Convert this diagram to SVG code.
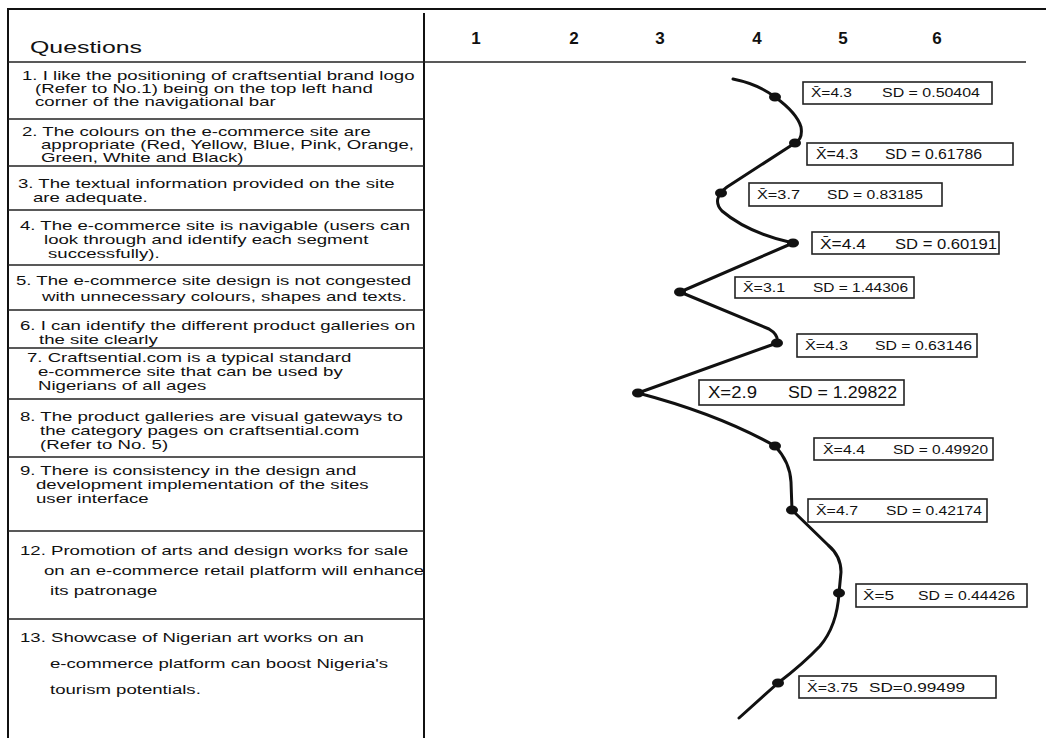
<svg xmlns="http://www.w3.org/2000/svg" width="1046" height="738" viewBox="0 0 1046 738">
<style>
.frame{stroke:#111;stroke-width:2;fill:none}
.rule{stroke:#222;stroke-width:1.6;fill:none}
.q{font-family:"Liberation Sans",Arial,sans-serif;font-size:13px;fill:#111}
.hd{font-family:"Liberation Sans",Arial,sans-serif;font-size:17.4px;fill:#111}
.num{font-family:"Liberation Sans",Arial,sans-serif;font-size:17px;font-weight:bold;fill:#111;text-anchor:middle}
.box{fill:#fff;stroke:#222;stroke-width:1.6}
.bt{font-family:"Liberation Sans",Arial,sans-serif;fill:#111}
.curve{fill:none;stroke:#111;stroke-width:3;stroke-linecap:round;stroke-linejoin:round}
.dot{fill:#111}
</style>
<rect width="1046" height="738" fill="#fff"/>
<g id="frame">
<line class="frame" x1="8" y1="9" x2="1046" y2="9"/>
<line class="frame" x1="8" y1="8" x2="8" y2="738"/>
<line class="frame" x1="424" y1="13" x2="424" y2="738"/>
<line class="rule" x1="8" y1="62" x2="1026" y2="62"/>
<line class="rule" x1="8" y1="119" x2="424" y2="119"/>
<line class="rule" x1="8" y1="166" x2="424" y2="166"/>
<line class="rule" x1="8" y1="210" x2="424" y2="210"/>
<line class="rule" x1="8" y1="265" x2="424" y2="265"/>
<line class="rule" x1="8" y1="310" x2="424" y2="310"/>
<line class="rule" x1="8" y1="348" x2="424" y2="348"/>
<line class="rule" x1="8" y1="399" x2="424" y2="399"/>
<line class="rule" x1="8" y1="457" x2="424" y2="457"/>
<line class="rule" x1="8" y1="531" x2="424" y2="531"/>
<line class="rule" x1="8" y1="619" x2="424" y2="619"/>
</g>
<g id="scale-header">
<text class="num" x="476" y="44">1</text>
<text class="num" x="574" y="44">2</text>
<text class="num" x="660" y="44">3</text>
<text class="num" x="757" y="44">4</text>
<text class="num" x="843" y="44">5</text>
<text class="num" x="937" y="44">6</text>
</g>
<g id="questions" transform="scale(1.43 1)">
<text class="hd" x="21" y="53">Questions</text>
<g id="q1"><text class="q" x="15.4" y="80">1. I like the positioning of craftsential brand logo</text>
<text class="q" x="24.5" y="93">(Refer to No.1) being on the top left hand</text>
<text class="q" x="24.5" y="106">corner of the  navigational bar</text></g>
<g id="q2"><text class="q" x="15.4" y="136">2. The colours on the e-commerce site are</text>
<text class="q" x="28.7" y="149">appropriate (Red, Yellow, Blue, Pink, Orange,</text>
<text class="q" x="28.7" y="162">Green, White and Black)</text></g>
<g id="q3"><text class="q" x="12.6" y="188">3. The textual information provided on the site</text>
<text class="q" x="23.1" y="202">are adequate.</text></g>
<g id="q4"><text class="q" x="14" y="230">4. The e-commerce site is navigable (users can</text>
<text class="q" x="30.8" y="244">look through and identify each segment</text>
<text class="q" x="33.6" y="258">successfully).</text></g>
<g id="q5"><text class="q" x="11.2" y="285">5. The e-commerce site design is not congested</text>
<text class="q" x="29.4" y="301">with unnecessary colours, shapes and texts.</text></g>
<g id="q6"><text class="q" x="14" y="330">6. I can identify the different product galleries on</text>
<text class="q" x="27.3" y="344">the site clearly</text></g>
<g id="q7"><text class="q" x="18.9" y="362">7. Craftsential.com is a typical standard</text>
<text class="q" x="26.6" y="376">e-commerce site that can be used by</text>
<text class="q" x="26.6" y="390">Nigerians of all ages</text></g>
<g id="q8"><text class="q" x="14" y="421">8. The product galleries are visual gateways to</text>
<text class="q" x="28" y="435">the category pages on craftsential.com</text>
<text class="q" x="28" y="449">(Refer to No. 5)</text></g>
<g id="q9"><text class="q" x="14" y="475">9. There is consistency in the design and</text>
<text class="q" x="25.2" y="489">development implementation of the sites</text>
<text class="q" x="25.2" y="503">user interface</text></g>
<g id="q12"><text class="q" x="14" y="555">12. Promotion of arts and design works for sale</text>
<text class="q" x="30.8" y="575">on an e-commerce retail platform will enhance</text>
<text class="q" x="35" y="595">its patronage</text></g>
<g id="q13"><text class="q" x="14" y="642">13. Showcase of Nigerian art works on an</text>
<text class="q" x="35" y="668">e-commerce platform can boost Nigeria's</text>
<text class="q" x="35" y="694">tourism potentials.</text></g>
</g>
<g id="connectors">
<path class="curve" d="M733,79 Q758,84 775,97 Q797,113 801,127 Q803,139 795,143 L727,187 Q711,199 722,211 Q748,233 793,243 L680,292 L769,329 Q779,335 777,343 L638,393 Q718,414 775,446 Q790,462 791,482 L792,510 L828,545 Q841,556 841,572 L839,593 Q837,626 820,646 Q803,664 778,683 L739,718"/>
<ellipse class="dot" cx="775" cy="97" rx="6" ry="4.5"/>
<ellipse class="dot" cx="795" cy="143" rx="6" ry="4.5"/>
<ellipse class="dot" cx="721" cy="193" rx="6" ry="4.5"/>
<ellipse class="dot" cx="793" cy="243" rx="6" ry="4.5"/>
<ellipse class="dot" cx="680" cy="292" rx="6" ry="4.5"/>
<ellipse class="dot" cx="777" cy="343" rx="6" ry="4.5"/>
<ellipse class="dot" cx="638" cy="393" rx="6" ry="4.5"/>
<ellipse class="dot" cx="775" cy="446" rx="6" ry="4.5"/>
<ellipse class="dot" cx="792" cy="510" rx="6" ry="4.5"/>
<ellipse class="dot" cx="839" cy="593" rx="6" ry="4.5"/>
<ellipse class="dot" cx="778" cy="683" rx="6" ry="4.5"/>
</g>
<g id="b1"><rect class="box" x="803" y="82" width="189" height="22"/>
<text class="bt" font-size="12" x="811" y="97" textLength="41" lengthAdjust="spacingAndGlyphs">X&#x304;=4.3</text>
<text class="bt" font-size="12" x="882" y="97" textLength="98" lengthAdjust="spacingAndGlyphs">SD = 0.50404</text></g>
<g id="b2"><rect class="box" x="807" y="143" width="206" height="22"/>
<text class="bt" font-size="14" x="816" y="159" textLength="42" lengthAdjust="spacingAndGlyphs">X&#x304;=4.3</text>
<text class="bt" font-size="14" x="885" y="159" textLength="97" lengthAdjust="spacingAndGlyphs">SD = 0.61786</text></g>
<g id="b3"><rect class="box" x="749" y="183" width="193" height="23"/>
<text class="bt" font-size="12.5" x="757" y="199" textLength="43" lengthAdjust="spacingAndGlyphs">X&#x304;=3.7</text>
<text class="bt" font-size="12.5" x="827" y="199" textLength="96" lengthAdjust="spacingAndGlyphs">SD = 0.83185</text></g>
<g id="b4"><rect class="box" x="812" y="232" width="187" height="22"/>
<text class="bt" font-size="15" x="820" y="248.5" textLength="46" lengthAdjust="spacingAndGlyphs">X&#x304;=4.4</text>
<text class="bt" font-size="15" x="895" y="248.5" textLength="102" lengthAdjust="spacingAndGlyphs">SD = 0.60191</text></g>
<g id="b5"><rect class="box" x="735" y="277" width="179" height="21"/>
<text class="bt" font-size="13" x="743" y="292" textLength="42" lengthAdjust="spacingAndGlyphs">X&#x304;=3.1</text>
<text class="bt" font-size="13" x="813" y="292" textLength="95" lengthAdjust="spacingAndGlyphs">SD = 1.44306</text></g>
<g id="b6"><rect class="box" x="797" y="334" width="180" height="23"/>
<text class="bt" font-size="13.5" x="805" y="350" textLength="43" lengthAdjust="spacingAndGlyphs">X&#x304;=4.3</text>
<text class="bt" font-size="13.5" x="875" y="350" textLength="97" lengthAdjust="spacingAndGlyphs">SD = 0.63146</text></g>
<g id="b7"><rect class="box" x="699" y="380" width="205" height="25"/>
<text class="bt" font-size="16" x="708" y="398" textLength="49" lengthAdjust="spacingAndGlyphs">X=2.9</text>
<text class="bt" font-size="16" x="788" y="398" textLength="109" lengthAdjust="spacingAndGlyphs">SD = 1.29822</text></g>
<g id="b8"><rect class="box" x="814" y="438" width="179" height="22"/>
<text class="bt" font-size="13" x="823" y="453.5" textLength="42" lengthAdjust="spacingAndGlyphs">X&#x304;=4.4</text>
<text class="bt" font-size="13" x="893" y="453.5" textLength="95" lengthAdjust="spacingAndGlyphs">SD = 0.49920</text></g>
<g id="b9"><rect class="box" x="808" y="499" width="179" height="23"/>
<text class="bt" font-size="13.5" x="816" y="515" textLength="42" lengthAdjust="spacingAndGlyphs">X&#x304;=4.7</text>
<text class="bt" font-size="13.5" x="886" y="515" textLength="96" lengthAdjust="spacingAndGlyphs">SD = 0.42174</text></g>
<g id="b10"><rect class="box" x="856" y="584" width="171" height="23"/>
<text class="bt" font-size="13.5" x="863" y="600" textLength="31" lengthAdjust="spacingAndGlyphs">X&#x304;=5</text>
<text class="bt" font-size="13.5" x="918" y="600" textLength="97" lengthAdjust="spacingAndGlyphs">SD = 0.44426</text></g>
<g id="b11"><rect class="box" x="799" y="676" width="197" height="22"/>
<text class="bt" font-size="13.5" x="807" y="691.5" textLength="51" lengthAdjust="spacingAndGlyphs">X&#x304;=3.75</text>
<text class="bt" font-size="13.5" x="869" y="691.5" textLength="96" lengthAdjust="spacingAndGlyphs">SD=0.99499</text></g>
</svg>
